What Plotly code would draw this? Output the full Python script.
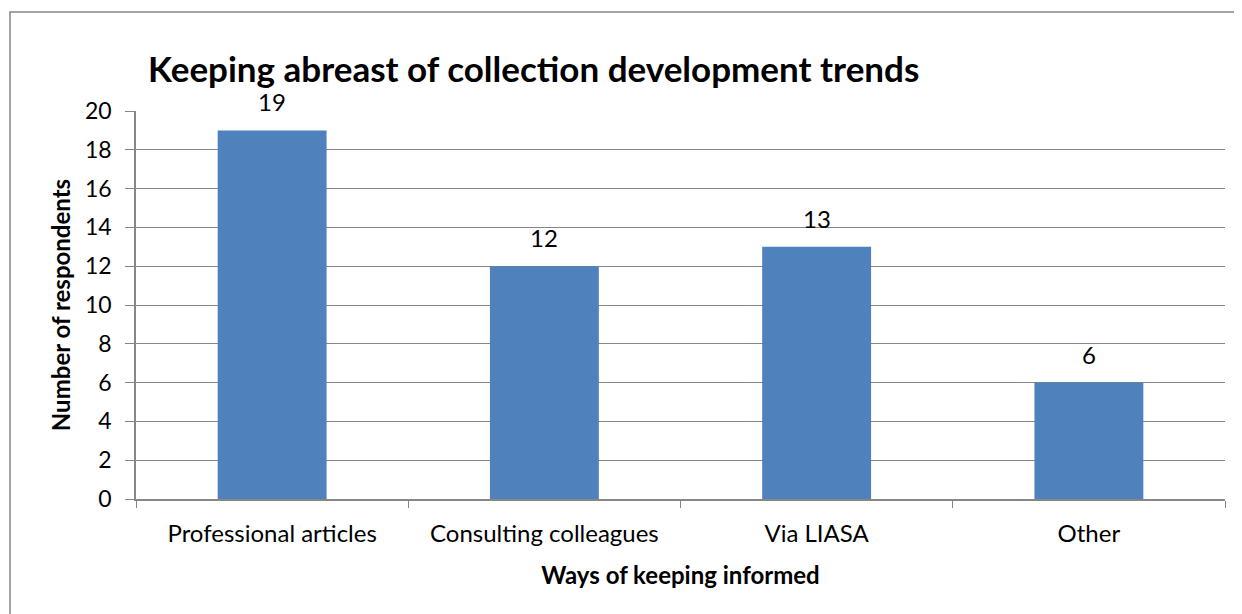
import plotly.graph_objects as go

categories = ["Professional articles", "Consulting colleagues", "Via LIASA", "Other"]
values = [19, 12, 13, 6]
y_ticks = [0, 2, 4, 6, 8, 10, 12, 14, 16, 18, 20]

FONT = "Lato, 'Open Sans', sans-serif"
GRID = "#868686"

fig = go.Figure()
fig.add_trace(go.Bar(
    x=categories, y=values,
    marker=dict(color="#4F81BD", line=dict(width=0)),
    width=0.4,
    hoverinfo="x+y",
))

for c, v in zip(categories, values):
    fig.add_annotation(x=c, y=v, text=str(v), showarrow=False,
                       yanchor="bottom", yshift=12,
                       font=dict(family=FONT, size=24, color="#000000"))

# page body has an 8px margin, so figure coords = screen coords - 8
OFF = 8
W, H = 1242, 614
L, R, T, B = 136 - OFF, W - (1225 - OFF), 111 - OFF, H - (499 - OFF)
pw, ph = W - L - R, H - T - B

def px_x(p):
    return (p - OFF - L) / pw

def px_y(p):
    return (H - B - (p - OFF)) / ph

fig.add_shape(type="rect", xref="paper", yref="paper",
              x0=px_x(10), x1=px_x(1300), y0=px_y(680), y1=px_y(12),
              line=dict(color=GRID, width=1.5), fillcolor="rgba(0,0,0,0)", layer="below")

fig.update_layout(
    width=W, height=H,
    margin=dict(l=L, r=R, t=T, b=B, pad=0),
    paper_bgcolor="white", plot_bgcolor="white",
    showlegend=False,
    title=dict(text="<b>Keeping abreast of collection development trends</b>",
               x=(148 - OFF) / W, xanchor="left", xref="container",
               y=1 - (70 - OFF) / H, yanchor="middle", yref="container",
               font=dict(family=FONT, size=35, color="#000000")),
    font=dict(family=FONT, size=24, color="#000000"),
    bargap=0.6,
)

fig.update_yaxes(
    range=[0, 20], tickvals=y_ticks, ticktext=[str(t) for t in y_ticks],
    showgrid=True, gridcolor=GRID, gridwidth=1.3,
    showline=True, linecolor=GRID, linewidth=1.5,
    ticks="outside", ticklen=9, tickcolor=GRID, tickwidth=1.3,
    ticklabelstandoff=9,
    zeroline=False,
    tickfont=dict(family=FONT, size=23, color="#000000"),
    title=dict(text="<b>Number of respondents</b>", standoff=8,
               font=dict(family=FONT, size=24, color="#000000")),
)
fig.update_xaxes(
    showline=True, linecolor=GRID, linewidth=1.5,
    ticks="outside", ticklen=7, tickcolor=GRID, tickwidth=1.3,
    tickson="boundaries", showgrid=False,
    ticklabelstandoff=12,
    tickfont=dict(family=FONT, size=24, color="#000000"),
    title=dict(text="<b>Ways of keeping informed</b>", standoff=22,
               font=dict(family=FONT, size=24, color="#000000")),
)

fig.write_html("out.html")
